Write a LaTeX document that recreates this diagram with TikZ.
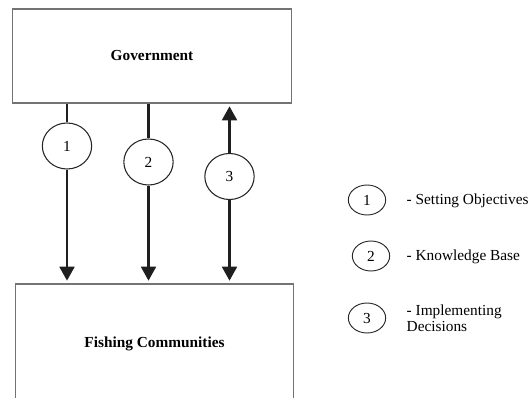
\documentclass[tikz,border=0pt]{standalone}
\usepackage{fontspec}
\setmainfont{Liberation Serif}
\usetikzlibrary{shapes.geometric, arrows.meta, positioning}

\begin{document}
\begin{tikzpicture}[
    x=0.75pt, y=-0.75pt,
    txt/.style={font=\fontsize{11.5}{12}\selectfont},
    box/.style={rectangle, draw=black!55, line width=0.9pt, minimum width=209pt,
                align=center, font=\fontsize{11.5}{14}\selectfont\bfseries},
    num/.style={ellipse, draw=black!85, fill=white, line width=0.8pt, txt,
                minimum width=37pt, minimum height=34.5pt, inner sep=0pt},
    key/.style={ellipse, draw=black!85, line width=0.7pt, txt,
                minimum width=28pt, minimum height=22.5pt, inner sep=0pt},
    keytext/.style={anchor=west, align=left, txt},
    link/.style={line width=2.1pt, draw=black!88},
    arrow/.style={link, -{Triangle[length=10.5pt,width=11pt]}, shorten >=2pt}
  ]
    \useasboundingbox (0,0) rectangle (530,398);
    \clip (0,0) rectangle (530,398);

    \node[box, minimum height=70.5pt] (gov)  at (152,56)    {Government};
    \node[box, minimum height=90pt]   (fish) at (154.5,344) {Fishing Communities};

    \node[num] (c1) at (67,146)    {1};
    \node[num] (c2) at (148.5,162) {2};
    \node[num] (c3) at (229.5,176.5) {3};

    \draw[link]  (gov.south -| c1) -- (c1);
    \draw[arrow] (c1) -- (c1 |- fish.north);
    \draw[link]  (gov.south -| c2) -- (c2);
    \draw[arrow] (c2) -- (c2 |- fish.north);
    \draw[arrow] (c3) -- (c3 |- gov.south);
    \draw[arrow] (c3) -- (c3 |- fish.north);

    % legend
    \node[key] (k1) at (367,200) {1};
    \node[key] (k2) at (371,256) {2};
    \node[key] (k3) at (367,318) {3};
    \node[keytext] (t1) at (402,201) {- Setting Objectives};
    \node[keytext] (t2) at (402,257) {- Knowledge Base};
    \node[keytext] (t3) at (402,318) {- Implementing\\Decisions};
  \end{tikzpicture}
\end{document}
